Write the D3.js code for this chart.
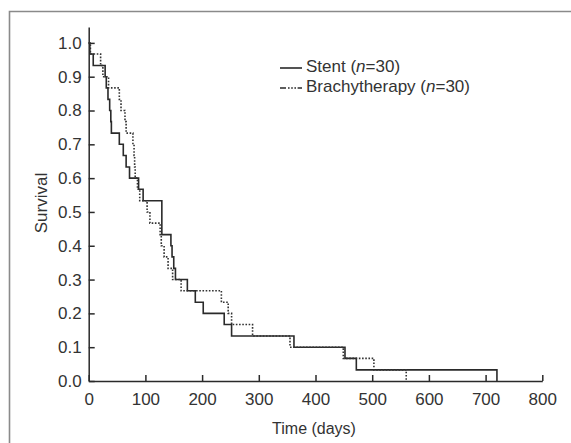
<!DOCTYPE html>
<html>
<head>
<meta charset="utf-8">
<script src="https://cdn.jsdelivr.net/npm/d3@7"></script>
<style>
  body { margin: 0; background: #fff; }
  svg { display: block; font-family: "Liberation Sans", Arial, sans-serif; }
</style>
</head>
<body>
<svg id="chart" width="571" height="443"></svg>
<script>
// Kaplan-Meier steps (time in days, survival after the step)
var stentTimes = [0, 2, 8, 29, 31, 34, 37, 39, 40, 54, 61, 66, 72, 88, 96, 129, 145, 147, 150, 153, 158, 174, 188, 202, 239, 252, 362, 452, 472, 720];
var stentSurv  = [1.0, 0.967, 0.933, 0.9, 0.867, 0.833, 0.8, 0.767, 0.733, 0.7, 0.667, 0.633, 0.6, 0.567, 0.533, 0.433, 0.4, 0.367, 0.333, 0.3, 0.3, 0.267, 0.233, 0.2, 0.167, 0.133, 0.1, 0.067, 0.033, 0.0];

var brachyTimes = [0, 3, 21, 25, 35, 54, 57, 64, 66, 78, 80, 81, 82, 86, 90, 103, 108, 126, 128, 133, 140, 148, 163, 234, 246, 252, 289, 355, 449, 503, 560];
var brachySurv  = [1.0, 0.967, 0.933, 0.9, 0.867, 0.833, 0.8, 0.767, 0.733, 0.7, 0.667, 0.633, 0.6, 0.567, 0.533, 0.5, 0.467, 0.433, 0.4, 0.367, 0.333, 0.3, 0.267, 0.233, 0.2, 0.167, 0.133, 0.1, 0.067, 0.033, 0.0];

var xTicks = [0, 100, 200, 300, 400, 500, 600, 700, 800];
var yTicks = [0.0, 0.1, 0.2, 0.3, 0.4, 0.5, 0.6, 0.7, 0.8, 0.9, 1.0];
var legendLabels = ["Stent", "Brachytherapy"];
var legendN = [30, 30];

var svg = d3.select("#chart");

// frame round the figure
svg.append("path")
  .attr("d", "M9.5,443 V11.5 H571")
  .attr("fill", "none")
  .attr("stroke", "#8a8a8a")
  .attr("stroke-width", 1.6);

var x = d3.scaleLinear().domain([0, 800]).range([88.7, 542.3]);
var y = d3.scaleLinear().domain([0, 1.047]).range([381, 27]);

var ink = "#2a2a2a";

var xAxis = svg.append("g")
  .attr("transform", "translate(0,381)")
  .call(d3.axisBottom(x).tickValues(xTicks).tickSizeInner(-6).tickSizeOuter(0).tickPadding(12)
    .tickFormat(d3.format("d")));

var yAxis = svg.append("g")
  .attr("transform", "translate(88.7,0)")
  .call(d3.axisLeft(y).tickValues(yTicks).tickSizeInner(-6).tickSizeOuter(0).tickPadding(7)
    .tickFormat(d3.format(".1f")));

[xAxis, yAxis].forEach(function (g) {
  g.select(".domain").attr("stroke", ink).attr("stroke-width", 1.5);
  g.selectAll(".tick line").attr("stroke", ink).attr("stroke-width", 1.5);
  g.selectAll(".tick text").attr("fill", "#333").style("font-size", "17px");
});

svg.append("text")
  .attr("x", 314).attr("y", 434)
  .attr("text-anchor", "middle")
  .attr("fill", "#333")
  .style("font-size", "16px")
  .text("Time (days)");

svg.append("text")
  .attr("transform", "translate(47,203) rotate(-90)")
  .attr("text-anchor", "middle")
  .attr("fill", "#333")
  .style("font-size", "17px")
  .text("Survival");

var line = d3.line()
  .x(function (d) { return x(d[0]); })
  .y(function (d) { return y(d[1]); })
  .curve(d3.curveStepAfter);

svg.append("path")
  .datum(d3.zip(stentTimes, stentSurv))
  .attr("fill", "none")
  .attr("stroke", ink)
  .attr("stroke-width", 1.6)
  .attr("d", line);

svg.append("path")
  .datum(d3.zip(brachyTimes, brachySurv))
  .attr("fill", "none")
  .attr("stroke", "#333")
  .attr("stroke-width", 1.6)
  .attr("stroke-dasharray", "1.6,1.6")
  .attr("d", line);

// legend
var leg = svg.append("g");
legendLabels.forEach(function (name, i) {
  var yy = 68 + i * 20;
  leg.append("line")
    .attr("x1", 280).attr("x2", 302)
    .attr("y1", yy).attr("y2", yy)
    .attr("stroke", ink)
    .attr("stroke-width", 1.6)
    .attr("stroke-dasharray", i === 0 ? null : "6,2,1.6,1.6,1.6,1.6,1.6,1.6");
  var t = leg.append("text")
    .attr("x", 306).attr("y", yy + 4)
    .attr("fill", "#333")
    .style("font-size", "17px");
  t.append("tspan").text(name + " (");
  t.append("tspan").style("font-style", "italic").text("n");
  t.append("tspan").text("=" + legendN[i] + ")");
});
</script>
</body>
</html>
